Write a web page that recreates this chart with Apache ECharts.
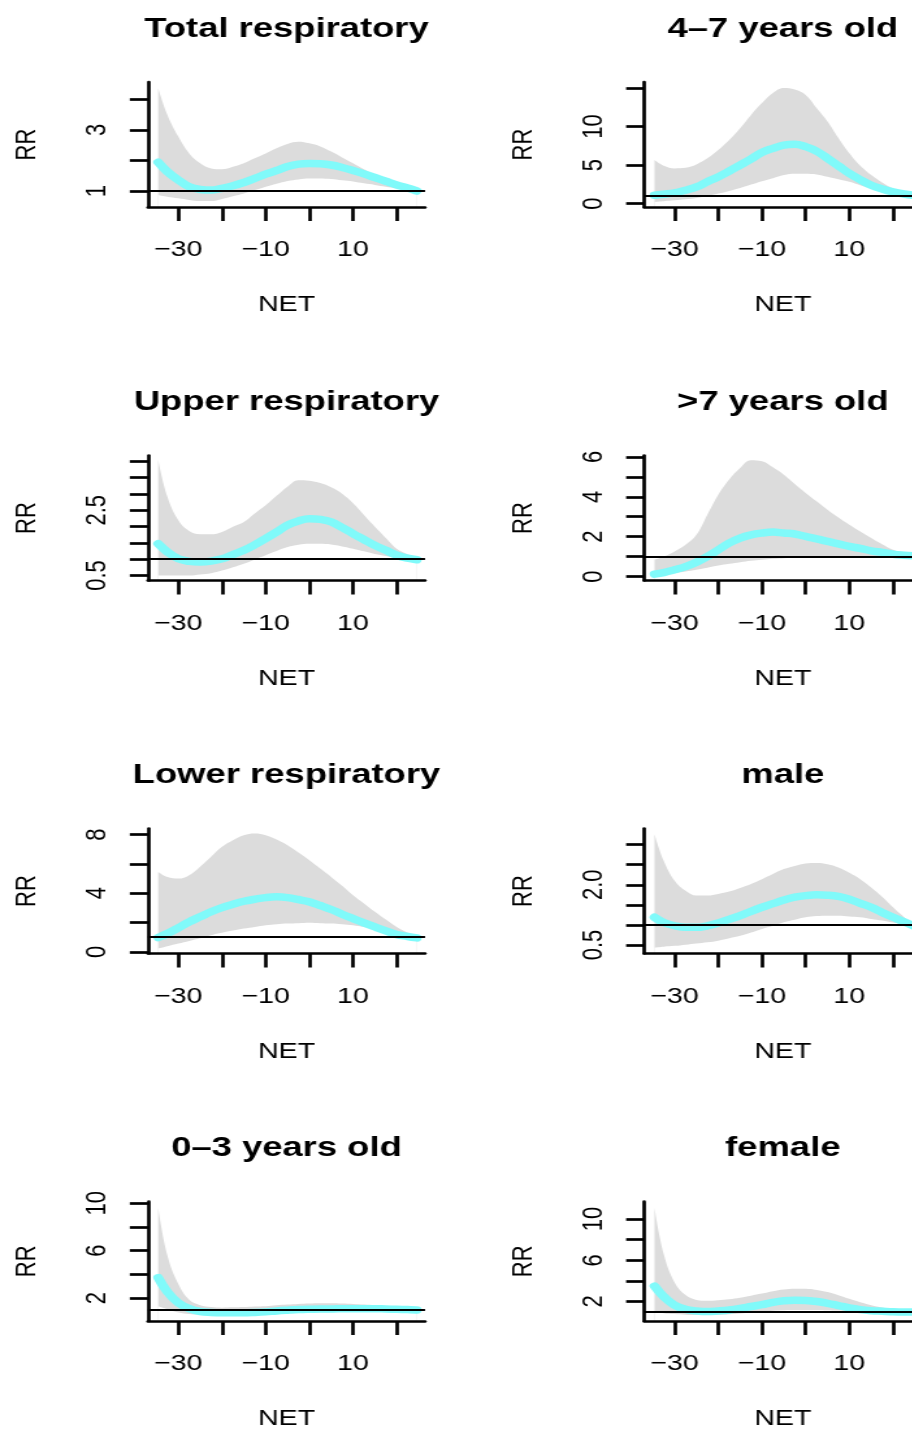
<!DOCTYPE html>
<html>
<head>
<meta charset="utf-8">
<title>RR by NET</title>
<script src="https://cdn.jsdelivr.net/npm/echarts@6/dist/echarts.min.js"></script>
<style>
html, body { margin: 0; padding: 0; background: #fff; width: 912px; height: 1431px; overflow: hidden; }
/* the source figure is stretched horizontally, so draw narrow and stretch */
#main { width: 720px; height: 1431px; transform: scaleX(1.3); transform-origin: 0 0; }
</style>
</head>
<body>
<div id="main"></div>
<script>
// NET values where the curves were read
const net = [-34.6, -32.5, -30, -27.5, -25, -22.5, -20, -17.5, -15, -12.5, -10, -7.5, -5, -2.5, 0, 2.5, 5, 7.5, 10, 12.5, 15, 17.5, 20, 22.5, 24.6]

const totalFit = [1.94, 1.63, 1.36, 1.14, 1.05, 1.03, 1.09, 1.17, 1.28, 1.41, 1.55, 1.67, 1.8, 1.88, 1.9, 1.89, 1.85, 1.77, 1.67, 1.56, 1.44, 1.32, 1.2, 1.1, 1.0]
const totalLow = [0.87, 0.81, 0.76, 0.71, 0.67, 0.67, 0.74, 0.83, 0.92, 1.03, 1.14, 1.24, 1.33, 1.38, 1.41, 1.41, 1.39, 1.35, 1.31, 1.25, 1.2, 1.14, 1.09, 1.04, 1.0]
const totalHigh = [4.36, 3.49, 2.78, 2.23, 1.91, 1.74, 1.71, 1.79, 1.91, 2.07, 2.23, 2.4, 2.54, 2.61, 2.56, 2.46, 2.29, 2.1, 1.91, 1.71, 1.52, 1.35, 1.2, 1.09, 1.0]

const upperFit = [1.47, 1.22, 1.01, 0.93, 0.91, 0.94, 1.01, 1.14, 1.27, 1.44, 1.63, 1.83, 2.04, 2.17, 2.24, 2.22, 2.14, 1.97, 1.78, 1.6, 1.42, 1.27, 1.12, 1.03, 0.98]
const upperLow = [0.5, 0.5, 0.5, 0.5, 0.53, 0.57, 0.65, 0.75, 0.86, 0.99, 1.12, 1.25, 1.37, 1.44, 1.47, 1.47, 1.45, 1.39, 1.32, 1.24, 1.16, 1.1, 1.04, 1.0, 0.98]
const upperHigh = [4.04, 2.91, 2.19, 1.86, 1.76, 1.76, 1.83, 1.99, 2.14, 2.4, 2.65, 2.94, 3.22, 3.42, 3.4, 3.33, 3.2, 3.0, 2.71, 2.35, 1.99, 1.65, 1.32, 1.15, 1.01]

const lowerFit = [0.98, 1.25, 1.64, 2.05, 2.39, 2.73, 3.02, 3.25, 3.45, 3.59, 3.7, 3.75, 3.7, 3.57, 3.41, 3.16, 2.89, 2.57, 2.27, 1.98, 1.7, 1.43, 1.18, 1.05, 0.95]
const lowerLow = [0.23, 0.39, 0.57, 0.75, 0.93, 1.14, 1.3, 1.45, 1.59, 1.7, 1.82, 1.89, 1.93, 1.95, 1.98, 1.95, 1.93, 1.89, 1.82, 1.7, 1.55, 1.38, 1.14, 1.0, 0.95]
const lowerHigh = [5.45, 5.1, 5.0, 5.23, 5.8, 6.48, 7.16, 7.61, 7.95, 8.07, 7.95, 7.66, 7.27, 6.77, 6.25, 5.68, 5.11, 4.5, 3.86, 3.3, 2.73, 2.2, 1.7, 1.3, 1.0]

const age03Fit = [3.73, 2.53, 1.6, 1.12, 0.88, 0.8, 0.77, 0.77, 0.77, 0.8, 0.85, 0.93, 0.99, 1.04, 1.07, 1.09, 1.09, 1.12, 1.12, 1.12, 1.12, 1.09, 1.07, 1.04, 1.01]
const age03Low = [1.33, 1.07, 0.8, 0.67, 0.61, 0.59, 0.59, 0.59, 0.61, 0.64, 0.67, 0.69, 0.72, 0.75, 0.77, 0.8, 0.8, 0.83, 0.83, 0.83, 0.83, 0.85, 0.88, 0.93, 0.99]
const age03High = [9.6, 5.6, 3.2, 1.87, 1.41, 1.25, 1.2, 1.23, 1.25, 1.31, 1.33, 1.41, 1.47, 1.52, 1.55, 1.57, 1.57, 1.55, 1.52, 1.47, 1.41, 1.33, 1.25, 1.15, 1.04]

const age47Fit = [1.09, 1.22, 1.39, 1.74, 2.17, 2.83, 3.48, 4.22, 5.0, 5.78, 6.65, 7.17, 7.6, 7.7, 7.39, 6.8, 5.87, 4.9, 3.91, 3.1, 2.39, 1.9, 1.52, 1.25, 1.09]
const age47Low = [0.22, 0.32, 0.43, 0.58, 0.74, 1.0, 1.3, 1.65, 2.04, 2.48, 2.91, 3.3, 3.7, 3.87, 3.87, 3.78, 3.48, 3.17, 2.83, 2.39, 1.96, 1.61, 1.3, 1.13, 1.0]
const age47High = [5.65, 4.91, 4.57, 4.65, 5.09, 5.87, 6.96, 8.26, 9.78, 11.5, 13.04, 14.35, 15.0, 14.8, 14.1, 12.4, 10.65, 8.5, 6.52, 4.9, 3.7, 2.74, 1.96, 1.4, 1.09]

const age7Fit = [0.12, 0.2, 0.34, 0.5, 0.72, 1.0, 1.34, 1.68, 1.93, 2.09, 2.18, 2.23, 2.18, 2.13, 2.01, 1.89, 1.76, 1.64, 1.51, 1.41, 1.29, 1.21, 1.12, 1.07, 1.04]
const age7Low = [0.05, 0.11, 0.17, 0.25, 0.34, 0.44, 0.55, 0.64, 0.72, 0.79, 0.84, 0.89, 0.92, 0.95, 0.97, 0.98, 0.99, 0.99, 1.0, 1.0, 1.0, 1.0, 1.0, 1.0, 1.0]
const age7High = [0.84, 1.0, 1.26, 1.59, 2.09, 3.1, 4.1, 4.86, 5.44, 5.83, 5.78, 5.48, 5.11, 4.64, 4.19, 3.77, 3.35, 2.96, 2.6, 2.26, 1.93, 1.62, 1.34, 1.17, 1.04]

const maleFit = [1.19, 1.06, 0.98, 0.94, 0.94, 0.98, 1.05, 1.14, 1.23, 1.34, 1.44, 1.53, 1.62, 1.69, 1.73, 1.75, 1.74, 1.71, 1.64, 1.54, 1.44, 1.31, 1.19, 1.08, 0.98]
const maleLow = [0.44, 0.46, 0.48, 0.51, 0.54, 0.57, 0.61, 0.67, 0.73, 0.81, 0.9, 0.98, 1.07, 1.13, 1.19, 1.22, 1.23, 1.23, 1.21, 1.19, 1.15, 1.11, 1.06, 1.02, 0.98]
const maleHigh = [3.26, 2.6, 2.1, 1.85, 1.73, 1.73, 1.77, 1.83, 1.92, 2.02, 2.14, 2.27, 2.39, 2.47, 2.53, 2.54, 2.51, 2.43, 2.3, 2.14, 1.93, 1.7, 1.44, 1.2, 1.02]

const femaleFit = [3.48, 2.46, 1.63, 1.23, 1.08, 1.02, 1.08, 1.17, 1.32, 1.51, 1.69, 1.91, 2.06, 2.12, 2.09, 2.0, 1.82, 1.6, 1.38, 1.2, 1.1, 1.05, 1.0, 0.98, 0.98]
const femaleLow = [1.08, 0.86, 0.77, 0.71, 0.68, 0.68, 0.71, 0.76, 0.83, 0.92, 1.02, 1.09, 1.14, 1.16, 1.17, 1.16, 1.14, 1.11, 1.08, 1.04, 1.0, 0.98, 0.97, 0.96, 0.96]
const femaleHigh = [11.08, 6.62, 3.85, 2.62, 2.15, 2.06, 2.12, 2.22, 2.37, 2.56, 2.77, 3.0, 3.17, 3.24, 3.23, 3.12, 2.92, 2.6, 2.25, 1.93, 1.63, 1.4, 1.23, 1.1, 1.02]

// axis ticks and the labels R kept
const xTicks = [-30, -20, -10, 0, 10, 20]
const xLabels = [-30, -10, 10]
const totalTicks = [1, 2, 3, 4]
const totalLabels = [1, 3]
const upperTicks = [0.5, 1, 1.5, 2, 2.5, 3, 3.5, 4]
const upperLabels = [0.5, 2.5]
const lowerTicks = [0, 2, 4, 6, 8]
const lowerLabels = [0, 4, 8]
const age03Ticks = [2, 4, 6, 8, 10]
const age03Labels = [2, 6, 10]
const age47Ticks = [0, 5, 10, 15]
const age47Labels = [0, 5, 10]
const age7Ticks = [0, 1, 2, 3, 4, 5, 6]
const age7Labels = [0, 2, 4, 6]
const maleTicks = [0.5, 1, 1.5, 2, 2.5, 3]
const maleLabels = [0.5, 2]
const femaleTicks = [2, 4, 6, 8, 10]
const femaleLabels = [2, 6, 10]

const panels = [
  { title: 'Total respiratory', col: 0, row: 0, fit: totalFit, low: totalLow, high: totalHigh, ticks: totalTicks, labels: totalLabels, min: 0.477, max: 4.566, digits: 0 },
  { title: 'Upper respiratory', col: 0, row: 1, fit: upperFit, low: upperLow, high: upperHigh, ticks: upperTicks, labels: upperLabels, min: 0.346, max: 4.175, digits: 1 },
  { title: 'Lower respiratory', col: 0, row: 2, fit: lowerFit, low: lowerLow, high: lowerHigh, ticks: lowerTicks, labels: lowerLabels, min: -0.11, max: 8.41, digits: 0 },
  { title: '0\u20133 years old', col: 0, row: 3, fit: age03Fit, low: age03Low, high: age03High, ticks: age03Ticks, labels: age03Labels, min: 0.08, max: 10.13, digits: 0 },
  { title: '4\u20137 years old', col: 1, row: 0, fit: age47Fit, low: age47Low, high: age47High, ticks: age47Ticks, labels: age47Labels, min: -0.44, max: 15.78, digits: 0 },
  { title: '>7 years old', col: 1, row: 1, fit: age7Fit, low: age7Low, high: age7High, ticks: age7Ticks, labels: age7Labels, min: -0.2, max: 6.07, digits: 0 },
  { title: 'male', col: 1, row: 2, fit: maleFit, low: maleLow, high: maleHigh, ticks: maleTicks, labels: maleLabels, min: 0.29, max: 3.4, digits: 1 },
  { title: 'female', col: 1, row: 3, fit: femaleFit, low: femaleLow, high: femaleHigh, ticks: femaleTicks, labels: femaleLabels, min: 0.1, max: 11.69, digits: 0 }
]

const S = 1.3
const FONT = '"Liberation Sans", Arial, Helvetica, sans-serif'
const colLeft = [148 / S, 644.3 / S]
const plotW = 277 / S
const rowTop = [82, 455.5, 828.5, 1201.7]
const plotH = 125
const black = '#000'
const cyan = '#80FAFA'
const grey = '#DCDCDC'
const SMOOTH = 0.4

const minus = (v) => (v < 0 ? '\u2212' + Math.abs(v) : String(v))
const zip = (ys) => net.map((x, i) => [x, ys[i]])

const chart = echarts.init(document.getElementById('main'))

const grid = []
const xAxis = []
const yAxis = []
const series = []
const title = []

panels.forEach((p, i) => {
  const left = colLeft[p.col]
  const top = rowTop[p.row]
  grid.push({ left: left, top: top, width: plotW, height: plotH })
  title.push({
    text: p.title,
    left: left + plotW / 2,
    top: top - 67,
    textAlign: 'center',
    padding: 0,
    textStyle: { fontFamily: FONT, fontSize: 28, fontWeight: 'bold', color: black }
  })
  xAxis.push({
    gridIndex: i,
    type: 'value',
    min: -36.94,
    max: 26.48,
    name: 'NET',
    nameLocation: 'middle',
    nameGap: 87,
    nameTextStyle: { fontFamily: FONT, fontSize: 22, color: black },
    axisLine: { onZero: false, lineStyle: { color: black, width: 2.7 } },
    axisTick: { customValues: xTicks, length: 14, lineStyle: { color: black, width: 2.7 } },
    axisLabel: { customValues: xLabels, formatter: minus, margin: 32, fontFamily: FONT, fontSize: 22, color: black },
    splitLine: { show: false },
    z: 5
  })
  yAxis.push({
    gridIndex: i,
    type: 'value',
    min: p.min,
    max: p.max,
    name: 'RR',
    nameLocation: 'middle',
    nameGap: 82,
    nameTextStyle: { fontFamily: FONT, fontSize: 22, color: black },
    axisLine: { onZero: false, lineStyle: { color: black, width: 2.7 } },
    axisTick: { customValues: p.ticks, length: 14, lineStyle: { color: black, width: 2.7 } },
    axisLabel: {
      customValues: p.labels,
      formatter: (v) => v.toFixed(p.digits),
      rotate: 90,
      margin: 28,
      fontFamily: FONT,
      fontSize: 22,
      color: black
    },
    splitLine: { show: false },
    z: 5
  })
  // confidence band: grey down from the upper bound, then white down from the lower bound
  series.push({
    type: 'line',
    xAxisIndex: i,
    yAxisIndex: i,
    data: zip(p.high),
    smooth: SMOOTH,
    symbol: 'none',
    lineStyle: { width: 0 },
    areaStyle: { color: grey, opacity: 1, origin: 'start' },
    silent: true,
    z: 1
  })
  series.push({
    type: 'line',
    xAxisIndex: i,
    yAxisIndex: i,
    data: zip(p.low),
    smooth: SMOOTH,
    symbol: 'none',
    lineStyle: { width: 0 },
    areaStyle: { color: '#fff', opacity: 1, origin: 'start' },
    silent: true,
    z: 1
  })
  // RR = 1 reference
  series.push({
    type: 'line',
    xAxisIndex: i,
    yAxisIndex: i,
    data: [],
    z: 2,
    markLine: {
      silent: true,
      symbol: ['none', 'none'],
      label: { show: false },
      animation: false,
      lineStyle: { color: black, width: 1.8, type: 'solid' },
      data: [{ yAxis: 1 }]
    }
  })
  series.push({
    type: 'line',
    xAxisIndex: i,
    yAxisIndex: i,
    data: zip(p.fit),
    smooth: SMOOTH,
    symbol: 'none',
    lineStyle: { color: cyan, width: 7.5, cap: 'round', join: 'round' },
    silent: true,
    z: 3
  })
})

chart.setOption({
  animation: false,
  backgroundColor: '#fff',
  title: title,
  grid: grid,
  xAxis: xAxis,
  yAxis: yAxis,
  series: series
})
</script>
</body>
</html>
